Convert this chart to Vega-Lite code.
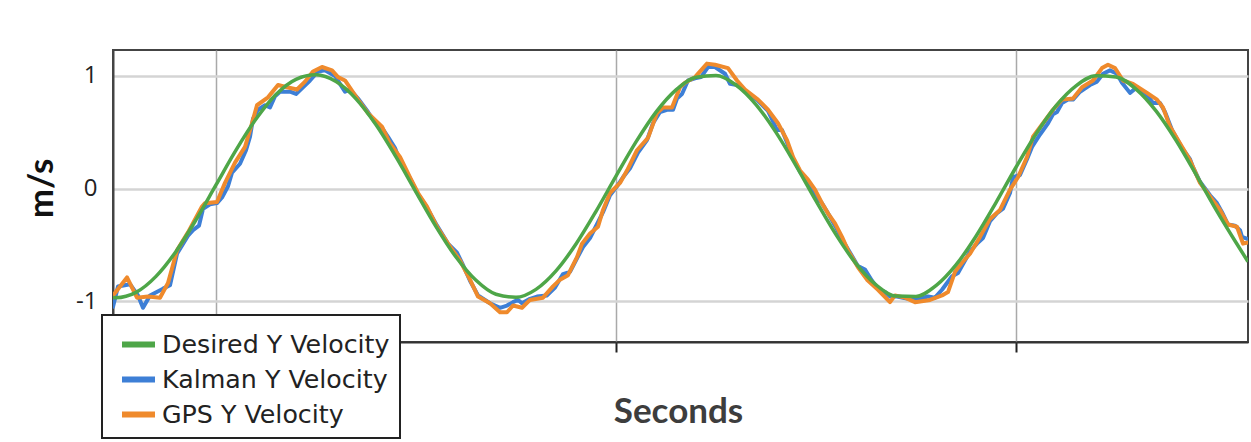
{
  "$schema": "https://vega.github.io/schema/vega-lite/v6.json",
  "width": 1135,
  "height": 292,
  "autosize": {"type": "none"},
  "padding": {"left": 113, "top": 50, "right": 3, "bottom": 100},
  "background": "white",
  "datasets": {
    "desired": [
      {"t": 7.425, "v": -0.968}, {"t": 7.5, "v": -0.970}, {"t": 8.0, "v": -0.923}, {"t": 8.5, "v": -0.781},
      {"t": 9.0, "v": -0.559}, {"t": 9.5, "v": -0.278}, {"t": 10.0, "v": 0.032}, {"t": 10.5, "v": 0.341},
      {"t": 11.0, "v": 0.617}, {"t": 11.5, "v": 0.835}, {"t": 12.0, "v": 0.970}, {"t": 12.5, "v": 1.010},
      {"t": 13.0, "v": 0.950}, {"t": 13.5, "v": 0.797}, {"t": 14.0, "v": 0.566}, {"t": 14.5, "v": 0.281},
      {"t": 15.0, "v": -0.031}, {"t": 15.5, "v": -0.338}, {"t": 16.0, "v": -0.609}, {"t": 16.5, "v": -0.816},
      {"t": 17.0, "v": -0.940}, {"t": 17.5, "v": -0.967}, {"t": 18.0, "v": -0.896}, {"t": 18.5, "v": -0.732},
      {"t": 19.0, "v": -0.493}, {"t": 19.5, "v": -0.203}, {"t": 20.0, "v": 0.110}, {"t": 20.5, "v": 0.414},
      {"t": 21.0, "v": 0.679}, {"t": 21.5, "v": 0.877}, {"t": 22.0, "v": 0.989}, {"t": 22.5, "v": 1.004},
      {"t": 23.0, "v": 0.920}, {"t": 23.5, "v": 0.746}, {"t": 24.0, "v": 0.499}, {"t": 24.5, "v": 0.204},
      {"t": 25.0, "v": -0.110}, {"t": 25.5, "v": -0.410}, {"t": 26.0, "v": -0.668}, {"t": 26.5, "v": -0.856},
      {"t": 27.0, "v": -0.956}, {"t": 27.5, "v": -0.959}, {"t": 28.0, "v": -0.863}, {"t": 28.5, "v": -0.679},
      {"t": 29.0, "v": -0.424}, {"t": 29.5, "v": -0.125}, {"t": 30.0, "v": 0.189}, {"t": 30.5, "v": 0.485},
      {"t": 31.0, "v": 0.735}, {"t": 31.5, "v": 0.913}, {"t": 32.0, "v": 1.002}, {"t": 32.5, "v": 0.992},
      {"t": 33.0, "v": 0.884}, {"t": 33.5, "v": 0.690}, {"t": 34.0, "v": 0.429}, {"t": 34.5, "v": 0.126},
      {"t": 35.0, "v": -0.187}, {"t": 35.5, "v": -0.480}, {"t": 35.8, "v": -0.650}
    ],
    "gps": [
      {"t": 7.425, "v": -0.95}, {"t": 7.775, "v": -0.79}, {"t": 8.025, "v": -0.97}, {"t": 8.3, "v": -0.96},
      {"t": 8.6, "v": -0.97}, {"t": 8.8, "v": -0.84}, {"t": 9.025, "v": -0.55}, {"t": 9.3, "v": -0.39},
      {"t": 9.65, "v": -0.16}, {"t": 9.725, "v": -0.13}, {"t": 10.025, "v": -0.12}, {"t": 10.225, "v": 0.05},
      {"t": 10.475, "v": 0.23}, {"t": 10.725, "v": 0.37}, {"t": 10.9, "v": 0.58}, {"t": 11.025, "v": 0.74},
      {"t": 11.3, "v": 0.81}, {"t": 11.55, "v": 0.92}, {"t": 11.775, "v": 0.90}, {"t": 12.025, "v": 0.88},
      {"t": 12.225, "v": 0.95}, {"t": 12.425, "v": 1.04}, {"t": 12.65, "v": 1.08}, {"t": 12.9, "v": 1.05},
      {"t": 13.05, "v": 0.99}, {"t": 13.225, "v": 0.96}, {"t": 13.55, "v": 0.79}, {"t": 13.8, "v": 0.67},
      {"t": 14.15, "v": 0.55}, {"t": 14.35, "v": 0.40}, {"t": 14.6, "v": 0.28}, {"t": 14.85, "v": 0.10},
      {"t": 15.05, "v": -0.04}, {"t": 15.275, "v": -0.16}, {"t": 15.525, "v": -0.34}, {"t": 15.8, "v": -0.49},
      {"t": 16.1, "v": -0.64}, {"t": 16.35, "v": -0.81}, {"t": 16.55, "v": -0.96}, {"t": 16.85, "v": -1.02},
      {"t": 17.1, "v": -1.10}, {"t": 17.275, "v": -1.10}, {"t": 17.425, "v": -1.04}, {"t": 17.65, "v": -1.06},
      {"t": 17.85, "v": -0.99}, {"t": 18.175, "v": -0.97}, {"t": 18.425, "v": -0.87}, {"t": 18.6, "v": -0.81},
      {"t": 18.8, "v": -0.77}, {"t": 19.025, "v": -0.61}, {"t": 19.15, "v": -0.49}, {"t": 19.35, "v": -0.40},
      {"t": 19.55, "v": -0.34}, {"t": 19.675, "v": -0.19}, {"t": 19.85, "v": -0.04}, {"t": 20.1, "v": 0.05},
      {"t": 20.275, "v": 0.16}, {"t": 20.525, "v": 0.34}, {"t": 20.8, "v": 0.45}, {"t": 21.025, "v": 0.67},
      {"t": 21.175, "v": 0.72}, {"t": 21.4, "v": 0.72}, {"t": 21.6, "v": 0.90}, {"t": 21.725, "v": 0.94},
      {"t": 21.975, "v": 0.99}, {"t": 22.275, "v": 1.11}, {"t": 22.475, "v": 1.10}, {"t": 22.8, "v": 1.07},
      {"t": 23.025, "v": 0.96}, {"t": 23.225, "v": 0.88}, {"t": 23.55, "v": 0.79}, {"t": 23.8, "v": 0.70},
      {"t": 24.05, "v": 0.58}, {"t": 24.275, "v": 0.43}, {"t": 24.425, "v": 0.28}, {"t": 24.6, "v": 0.16},
      {"t": 24.8, "v": 0.08}, {"t": 24.975, "v": -0.01}, {"t": 25.15, "v": -0.13}, {"t": 25.3, "v": -0.22},
      {"t": 25.475, "v": -0.31}, {"t": 25.65, "v": -0.43}, {"t": 25.8, "v": -0.55}, {"t": 26.05, "v": -0.70},
      {"t": 26.275, "v": -0.81}, {"t": 26.55, "v": -0.90}, {"t": 26.85, "v": -1.01}, {"t": 26.975, "v": -0.95},
      {"t": 27.225, "v": -0.97}, {"t": 27.475, "v": -1.01}, {"t": 27.85, "v": -0.99}, {"t": 28.15, "v": -0.95},
      {"t": 28.3, "v": -0.92}, {"t": 28.475, "v": -0.74}, {"t": 28.65, "v": -0.66}, {"t": 28.85, "v": -0.58},
      {"t": 29.1, "v": -0.43}, {"t": 29.35, "v": -0.27}, {"t": 29.6, "v": -0.19}, {"t": 29.85, "v": -0.01},
      {"t": 30.05, "v": 0.10}, {"t": 30.275, "v": 0.28}, {"t": 30.425, "v": 0.46}, {"t": 30.675, "v": 0.58},
      {"t": 30.925, "v": 0.70}, {"t": 31.15, "v": 0.79}, {"t": 31.425, "v": 0.80}, {"t": 31.65, "v": 0.90},
      {"t": 31.925, "v": 0.96}, {"t": 32.15, "v": 1.07}, {"t": 32.3, "v": 1.10}, {"t": 32.475, "v": 1.07},
      {"t": 32.675, "v": 0.96}, {"t": 32.925, "v": 0.93}, {"t": 33.275, "v": 0.85}, {"t": 33.525, "v": 0.79},
      {"t": 33.675, "v": 0.72}, {"t": 33.85, "v": 0.55}, {"t": 34.15, "v": 0.37}, {"t": 34.35, "v": 0.25},
      {"t": 34.6, "v": 0.05}, {"t": 34.85, "v": -0.07}, {"t": 35.1, "v": -0.19}, {"t": 35.3, "v": -0.32},
      {"t": 35.525, "v": -0.34}, {"t": 35.675, "v": -0.49}, {"t": 35.8, "v": -0.48}
    ],
    "kalman": [
      {"t": 7.425, "v": -1.05}, {"t": 7.55, "v": -0.87}, {"t": 7.85, "v": -0.85}, {"t": 8.05, "v": -0.95},
      {"t": 8.175, "v": -1.06}, {"t": 8.35, "v": -0.95}, {"t": 8.675, "v": -0.89}, {"t": 8.85, "v": -0.86},
      {"t": 9.025, "v": -0.58}, {"t": 9.3, "v": -0.42}, {"t": 9.425, "v": -0.37}, {"t": 9.575, "v": -0.33},
      {"t": 9.675, "v": -0.18}, {"t": 9.85, "v": -0.14}, {"t": 10.025, "v": -0.13}, {"t": 10.15, "v": -0.08},
      {"t": 10.3, "v": 0.02}, {"t": 10.4, "v": 0.14}, {"t": 10.6, "v": 0.22}, {"t": 10.75, "v": 0.34},
      {"t": 10.85, "v": 0.46}, {"t": 10.925, "v": 0.62}, {"t": 11.05, "v": 0.70}, {"t": 11.225, "v": 0.74},
      {"t": 11.35, "v": 0.72}, {"t": 11.475, "v": 0.82}, {"t": 11.6, "v": 0.86}, {"t": 11.85, "v": 0.86},
      {"t": 12.0, "v": 0.84}, {"t": 12.175, "v": 0.90}, {"t": 12.35, "v": 0.96}, {"t": 12.55, "v": 1.04},
      {"t": 12.725, "v": 1.05}, {"t": 12.975, "v": 1.00}, {"t": 13.1, "v": 0.93}, {"t": 13.225, "v": 0.86},
      {"t": 13.35, "v": 0.88}, {"t": 13.55, "v": 0.80}, {"t": 13.8, "v": 0.68}, {"t": 13.95, "v": 0.60},
      {"t": 14.15, "v": 0.54}, {"t": 14.3, "v": 0.46}, {"t": 14.475, "v": 0.36}, {"t": 14.6, "v": 0.24},
      {"t": 14.85, "v": 0.09}, {"t": 15.05, "v": -0.05}, {"t": 15.225, "v": -0.14}, {"t": 15.4, "v": -0.25},
      {"t": 15.525, "v": -0.33}, {"t": 15.8, "v": -0.49}, {"t": 16.025, "v": -0.57}, {"t": 16.15, "v": -0.66},
      {"t": 16.35, "v": -0.82}, {"t": 16.55, "v": -0.95}, {"t": 16.85, "v": -1.02}, {"t": 17.1, "v": -1.06},
      {"t": 17.275, "v": -1.04}, {"t": 17.425, "v": -1.01}, {"t": 17.55, "v": -0.99}, {"t": 17.65, "v": -1.02},
      {"t": 17.85, "v": -0.98}, {"t": 18.025, "v": -0.96}, {"t": 18.275, "v": -0.95}, {"t": 18.475, "v": -0.88},
      {"t": 18.675, "v": -0.76}, {"t": 18.85, "v": -0.74}, {"t": 19.025, "v": -0.62}, {"t": 19.175, "v": -0.52},
      {"t": 19.35, "v": -0.44}, {"t": 19.55, "v": -0.30}, {"t": 19.675, "v": -0.21}, {"t": 19.85, "v": -0.06},
      {"t": 20.025, "v": 0.02}, {"t": 20.175, "v": 0.10}, {"t": 20.35, "v": 0.18}, {"t": 20.55, "v": 0.32},
      {"t": 20.775, "v": 0.43}, {"t": 20.925, "v": 0.58}, {"t": 21.1, "v": 0.68}, {"t": 21.275, "v": 0.70},
      {"t": 21.425, "v": 0.70}, {"t": 21.525, "v": 0.80}, {"t": 21.65, "v": 0.84}, {"t": 21.8, "v": 0.96},
      {"t": 21.975, "v": 0.98}, {"t": 22.125, "v": 0.99}, {"t": 22.3, "v": 1.08}, {"t": 22.475, "v": 1.08},
      {"t": 22.725, "v": 1.02}, {"t": 22.85, "v": 0.93}, {"t": 23.025, "v": 0.92}, {"t": 23.225, "v": 0.87},
      {"t": 23.55, "v": 0.78}, {"t": 23.8, "v": 0.69}, {"t": 24.025, "v": 0.52}, {"t": 24.15, "v": 0.52},
      {"t": 24.275, "v": 0.41}, {"t": 24.425, "v": 0.27}, {"t": 24.6, "v": 0.15}, {"t": 24.8, "v": 0.06},
      {"t": 24.975, "v": -0.07}, {"t": 25.15, "v": -0.13}, {"t": 25.3, "v": -0.22}, {"t": 25.475, "v": -0.33},
      {"t": 25.65, "v": -0.45}, {"t": 25.8, "v": -0.54}, {"t": 26.05, "v": -0.69}, {"t": 26.225, "v": -0.72},
      {"t": 26.4, "v": -0.82}, {"t": 26.55, "v": -0.89}, {"t": 26.725, "v": -0.92}, {"t": 26.85, "v": -0.96},
      {"t": 27.025, "v": -0.96}, {"t": 27.175, "v": -0.97}, {"t": 27.475, "v": -0.99}, {"t": 27.8, "v": -0.96},
      {"t": 27.975, "v": -0.97}, {"t": 28.15, "v": -0.90}, {"t": 28.4, "v": -0.78}, {"t": 28.55, "v": -0.75},
      {"t": 28.725, "v": -0.64}, {"t": 28.85, "v": -0.56}, {"t": 29.025, "v": -0.49}, {"t": 29.175, "v": -0.44},
      {"t": 29.35, "v": -0.29}, {"t": 29.525, "v": -0.22}, {"t": 29.675, "v": -0.18}, {"t": 29.85, "v": -0.04},
      {"t": 29.925, "v": 0.10}, {"t": 30.1, "v": 0.12}, {"t": 30.275, "v": 0.26}, {"t": 30.4, "v": 0.37},
      {"t": 30.6, "v": 0.48}, {"t": 30.8, "v": 0.58}, {"t": 30.925, "v": 0.66}, {"t": 31.025, "v": 0.68},
      {"t": 31.15, "v": 0.76}, {"t": 31.3, "v": 0.79}, {"t": 31.425, "v": 0.79}, {"t": 31.6, "v": 0.86},
      {"t": 31.85, "v": 0.92}, {"t": 32.025, "v": 0.95}, {"t": 32.175, "v": 1.02}, {"t": 32.35, "v": 1.05},
      {"t": 32.525, "v": 1.02}, {"t": 32.65, "v": 0.94}, {"t": 32.85, "v": 0.85}, {"t": 33.025, "v": 0.90},
      {"t": 33.275, "v": 0.83}, {"t": 33.425, "v": 0.76}, {"t": 33.6, "v": 0.76}, {"t": 33.725, "v": 0.68},
      {"t": 33.9, "v": 0.52}, {"t": 34.15, "v": 0.36}, {"t": 34.35, "v": 0.26}, {"t": 34.425, "v": 0.19},
      {"t": 34.6, "v": 0.06}, {"t": 34.85, "v": -0.06}, {"t": 35.025, "v": -0.13}, {"t": 35.15, "v": -0.21},
      {"t": 35.3, "v": -0.32}, {"t": 35.475, "v": -0.33}, {"t": 35.6, "v": -0.37}, {"t": 35.65, "v": -0.43},
      {"t": 35.8, "v": -0.45}
    ]
  },
  "encoding": {
    "x": {
      "field": "t", "type": "quantitative",
      "scale": {"domain": [7.425, 35.8], "nice": false, "zero": false},
      "axis": {
        "values": [10, 20, 30], "labels": false, "title": "Seconds",
        "grid": true, "gridColor": "#a9a9a9", "gridWidth": 1.5,
        "domainColor": "#333333", "domainWidth": 2,
        "ticks": true, "tickColor": "#222222", "tickSize": 10, "tickWidth": 2,
        "titleFont": "Lato", "titleFontSize": 35, "titleFontWeight": "bold", "titleColor": "#3d3d3d",
        "titleX": 565, "titleY": 80, "titleAlign": "center", "titleBaseline": "alphabetic"
      }
    },
    "y": {
      "field": "v", "type": "quantitative",
      "scale": {"domain": [-1.364, 1.231], "nice": false, "zero": false},
      "axis": {
        "values": [-1, 0, 1], "title": "m/s", "ticks": false, "tickSize": 0,
        "labelExpr": "datum.value < 0 ? '-' + abs(datum.value) : datum.label",
        "domainColor": "#444444", "domainWidth": 2,
        "grid": true, "gridColor": "#d4d4d4", "gridWidth": 2.5,
        "labelFont": "Open Sans", "labelFontSize": 24, "labelColor": "#222222", "labelPadding": 16,
        "titleFont": "Lato", "titleFontSize": 35, "titleFontWeight": "bold", "titleColor": "#111111",
        "titleAngle": -90, "titleX": -61, "titleY": 138, "titleAlign": "center", "titleBaseline": "alphabetic"
      }
    }
  },
  "layer": [
    {
      "data": {"name": "kalman"},
      "mark": {"type": "line", "strokeWidth": 4, "strokeJoin": "round", "strokeCap": "round", "clip": true},
      "encoding": {
        "color": {
          "datum": "Kalman Y Velocity", "type": "nominal",
          "scale": {
            "domain": ["Desired Y Velocity", "Kalman Y Velocity", "GPS Y Velocity"],
            "range": ["#4ea648", "#3d7fd6", "#ef8a2c"]
          },
          "legend": {
            "title": null, "orient": "none", "legendX": -11, "legendY": 265, "direction": "vertical",
            "symbolType": "stroke", "symbolSize": 1089, "symbolStrokeWidth": 6, "symbolOffset": 7,
            "labelFont": "DejaVu Sans", "labelFontSize": 25.3, "labelColor": "#222222", "labelOffset": 4, "labelLimit": 400,
            "rowPadding": 2, "padding": 10,
            "strokeColor": "#222222", "fillColor": "white", "cornerRadius": 0
          }
        }
      }
    },
    {
      "data": {"name": "gps"},
      "mark": {"type": "line", "strokeWidth": 4, "strokeJoin": "round", "strokeCap": "round", "clip": true},
      "encoding": {"color": {"datum": "GPS Y Velocity", "type": "nominal"}}
    },
    {
      "data": {"name": "desired"},
      "mark": {"type": "line", "strokeWidth": 3.5, "interpolate": "monotone", "clip": true},
      "encoding": {"color": {"datum": "Desired Y Velocity", "type": "nominal"}}
    }
  ],
  "config": {
    "view": {"stroke": "#444444", "strokeWidth": 2},
    "axis": {"labelFont": "Open Sans"},
    "legend": {"strokeWidth": 2}
  }
}
